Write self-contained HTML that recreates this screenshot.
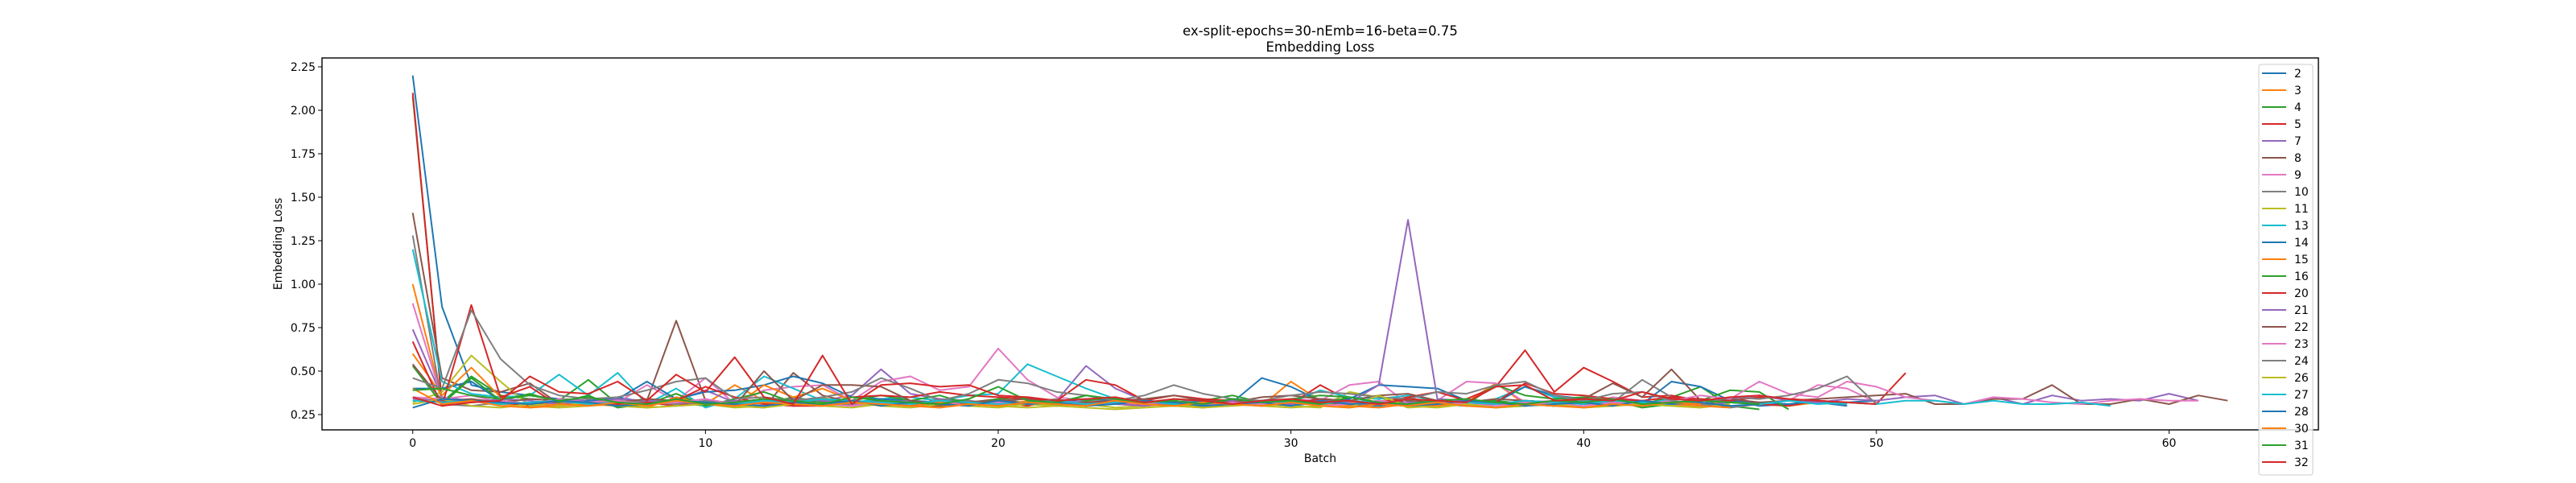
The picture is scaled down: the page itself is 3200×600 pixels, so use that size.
<!DOCTYPE html>
<html><head><meta charset="utf-8"><title>Embedding Loss</title>
<style>
html,body{margin:0;padding:0;background:#fff;}
svg{display:block;font-family:"DejaVu Sans","Liberation Sans",sans-serif;}
</style></head>
<body>
<svg id="chart" width="3200" height="600" viewBox="0 0 3200 600">
<text x="1640" y="44" text-anchor="middle" font-size="16.5">ex-split-epochs=30-nEmb=16-beta=0.75</text>
<text x="1640" y="64" text-anchor="middle" font-size="16.5">Embedding Loss</text>
<g id="plot"></g>
<rect x="400" y="72" width="2480" height="462" fill="none" stroke="#000" stroke-width="1.4"/>
<g id="xticks"></g>
<g id="yticks"></g>
<text x="1640" y="574" text-anchor="middle" font-size="14">Batch</text>
<text transform="translate(350,303) rotate(-90)" text-anchor="middle" font-size="14">Embedding Loss</text>
<g id="legend"></g>
</svg>
<script>
const seriesNames = ["2","3","4","5","7","8","9","10","11","13","14","15","16","20","21","22","23","24","26","27","28","30","31","32"];
const colors = ["#1f77b4","#ff7f0e","#2ca02c","#d62728","#9467bd","#8c564b","#e377c2","#7f7f7f","#bcbd22","#17becf"];
const xTicks = [0,10,20,30,40,50,60];
const yTicks = [0.25,0.50,0.75,1.00,1.25,1.50,1.75,2.00,2.25];
const s2  = [2.20,0.87,0.42,0.38,0.36,0.34,0.33,0.35,0.32,0.33,0.31,0.32,0.34,0.31,0.33,0.30,0.32,0.31,0.33,0.30,0.32,0.31,0.30,0.33,0.32,0.31,0.30,0.32,0.31,0.33,0.30,0.32,0.31,0.30,0.32,0.31,0.30,0.33,0.31,0.30,0.32,0.31,0.30,0.32,0.31,0.33,0.30,0.31,0.32,0.30];
const s3  = [1.00,0.34,0.33,0.31,0.30,0.32,0.31,0.33,0.30,0.34,0.31,0.42,0.33,0.31,0.35,0.30,0.32,0.31,0.30,0.33,0.31,0.32,0.30,0.33,0.31,0.30,0.32,0.29,0.31,0.30,0.44,0.33,0.32,0.31,0.30,0.33,0.32,0.43,0.31,0.30,0.32,0.34,0.31,0.32,0.30,0.33,0.31,0.30,0.32,0.31];
const s4  = [2.08,0.32,0.47,0.36,0.34,0.33,0.45,0.31,0.33,0.32,0.30,0.33,0.31,0.35,0.32,0.31,0.34,0.33,0.32,0.30,0.33,0.32,0.31,0.36,0.33,0.31,0.32,0.30,0.33,0.31,0.32,0.34,0.33,0.31,0.35,0.30,0.32,0.33,0.31,0.30,0.34,0.33,0.31,0.35,0.41,0.30,0.28];
const s5  = [2.10,0.31,0.33,0.32,0.30,0.34,0.33,0.31,0.32,0.30,0.33,0.31,0.32,0.30,0.31,0.33,0.32,0.30,0.34,0.31,0.32,0.30,0.33,0.31,0.32,0.30,0.33,0.31,0.34,0.32,0.31,0.42,0.33,0.31,0.30,0.33,0.34,0.41,0.62,0.38,0.52,0.44,0.35,0.36,0.33,0.32,0.31,0.30,0.33,0.31];
const s7  = [0.74,0.35,0.33,0.32,0.31,0.34,0.33,0.32,0.30,0.33,0.39,0.32,0.31,0.34,0.33,0.36,0.51,0.37,0.34,0.33,0.31,0.35,0.33,0.53,0.40,0.33,0.32,0.34,0.31,0.33,0.32,0.34,0.31,0.33,0.32,0.31,0.33,0.32,0.30,0.33,0.31,0.32,0.33,0.31,0.30,0.32];
const s8  = [1.41,0.46,0.39,0.38,0.43,0.31,0.32,0.30,0.33,0.79,0.33,0.30,0.29,0.49,0.36,0.32,0.33,0.31,0.30,0.32,0.34,0.31,0.33,0.30,0.32,0.31,0.33,0.30,0.32,0.31,0.33,0.32,0.30,0.31,0.33,0.32,0.30,0.31,0.33,0.32,0.31,0.33,0.30,0.32,0.31,0.30];
const s9  = [0.89,0.34,0.36,0.32,0.34,0.33,0.31,0.32,0.42,0.33,0.46,0.31,0.39,0.41,0.42,0.33,0.44,0.47,0.39,0.41,0.63,0.45,0.35,0.33,0.34,0.32,0.31,0.33,0.30,0.32,0.34,0.33,0.42,0.44,0.31,0.33,0.44,0.43,0.32,0.33,0.31,0.35,0.33,0.31,0.34,0.32,0.31,0.33,0.42,0.40,0.32];
const s10 = [1.28,0.31,0.30,0.32,0.31,0.33,0.30,0.34,0.32,0.31,0.33,0.30,0.32,0.34,0.31,0.33,0.30,0.32,0.31,0.33,0.30,0.32,0.34,0.31,0.33,0.32,0.30,0.31,0.33,0.32,0.31,0.34,0.30,0.32,0.31,0.33,0.30,0.32,0.31,0.30,0.33,0.32,0.45,0.35,0.31,0.29,0.31];
const s11 = [0.32,0.38,0.59,0.44,0.30,0.29,0.30,0.31,0.29,0.30,0.31,0.29,0.30,0.31,0.30,0.29,0.31,0.30,0.29,0.31,0.30,0.29,0.30,0.31,0.29,0.30,0.31,0.29,0.30,0.31,0.30,0.29,0.38,0.35,0.29,0.30,0.31,0.29,0.30,0.31,0.29,0.30,0.31,0.30,0.29,0.31];
const s13 = [1.20,0.44,0.37,0.35,0.36,0.48,0.36,0.49,0.31,0.40,0.29,0.34,0.47,0.40,0.33,0.32,0.34,0.35,0.33,0.36,0.37,0.54,0.47,0.40,0.34,0.33,0.32,0.31,0.34,0.33,0.32,0.39,0.35,0.34,0.36,0.33,0.32,0.34,0.41,0.35,0.33,0.32,0.31,0.34,0.33,0.32,0.31,0.33,0.32,0.31];
const s14 = [0.40,0.40,0.44,0.33,0.31,0.30,0.33,0.34,0.44,0.34,0.38,0.39,0.42,0.47,0.43,0.35,0.34,0.33,0.32,0.31,0.33,0.31,0.32,0.34,0.33,0.32,0.31,0.33,0.32,0.46,0.41,0.33,0.34,0.42,0.41,0.40,0.33,0.32,0.41,0.36,0.34,0.32,0.31,0.44,0.41,0.33,0.32,0.31,0.33,0.32,0.33];
const s15 = [0.60,0.36,0.52,0.35,0.29,0.30,0.31,0.30,0.29,0.35,0.31,0.30,0.42,0.35,0.40,0.33,0.31,0.30,0.32,0.31,0.30,0.33,0.31,0.30,0.32,0.31,0.30,0.29,0.31,0.30,0.32,0.31,0.30,0.29,0.31,0.30,0.32,0.31,0.30,0.33,0.31,0.30,0.32,0.31,0.30,0.29];
const s16 = [0.53,0.31,0.46,0.33,0.37,0.32,0.36,0.29,0.31,0.37,0.30,0.34,0.38,0.32,0.34,0.33,0.36,0.33,0.36,0.31,0.34,0.35,0.30,0.33,0.35,0.31,0.34,0.33,0.36,0.32,0.34,0.36,0.35,0.32,0.34,0.33,0.31,0.42,0.36,0.34,0.35,0.33,0.29,0.31,0.33,0.39,0.38,0.28];
const s20 = [0.67,0.30,0.88,0.35,0.41,0.30,0.32,0.31,0.32,0.33,0.41,0.35,0.31,0.30,0.30,0.35,0.36,0.35,0.38,0.36,0.35,0.34,0.33,0.45,0.42,0.33,0.36,0.34,0.33,0.32,0.31,0.34,0.33,0.32,0.35,0.38,0.33,0.32,0.43,0.37,0.36,0.34,0.33,0.35,0.34,0.33,0.35,0.34,0.33,0.32,0.31,0.49];
const s21 = [0.34,0.33,0.32,0.34,0.33,0.31,0.32,0.34,0.33,0.32,0.31,0.33,0.32,0.34,0.33,0.31,0.32,0.33,0.31,0.30,0.32,0.31,0.33,0.32,0.31,0.30,0.32,0.31,0.33,0.32,0.31,0.33,0.32,0.42,1.37,0.34,0.33,0.31,0.33,0.32,0.31,0.33,0.32,0.31,0.33,0.34,0.36,0.33,0.32,0.34,0.33,0.35,0.36,0.31,0.35,0.31,0.36,0.33,0.34,0.33,0.37,0.33];
const s22 = [0.54,0.33,0.34,0.32,0.34,0.33,0.31,0.32,0.34,0.33,0.31,0.30,0.50,0.33,0.42,0.42,0.41,0.33,0.31,0.32,0.33,0.34,0.31,0.32,0.33,0.34,0.36,0.33,0.32,0.35,0.36,0.34,0.33,0.36,0.37,0.33,0.32,0.34,0.33,0.32,0.34,0.43,0.35,0.51,0.33,0.34,0.32,0.33,0.34,0.35,0.36,0.37,0.31,0.31,0.34,0.34,0.42,0.31,0.31,0.34,0.31,0.36,0.33];
const s23 = [0.35,0.34,0.32,0.33,0.31,0.34,0.32,0.33,0.31,0.32,0.34,0.31,0.33,0.32,0.31,0.30,0.32,0.31,0.33,0.30,0.32,0.31,0.33,0.30,0.32,0.31,0.33,0.30,0.32,0.31,0.33,0.30,0.31,0.33,0.31,0.32,0.31,0.30,0.32,0.31,0.30,0.32,0.31,0.33,0.36,0.34,0.44,0.37,0.35,0.44,0.41,0.35,0.33,0.31,0.35,0.34,0.32,0.31,0.33,0.34,0.33,0.33];
const s24 = [0.46,0.40,0.85,0.57,0.42,0.36,0.34,0.35,0.39,0.44,0.46,0.34,0.35,0.33,0.35,0.38,0.46,0.40,0.33,0.37,0.45,0.43,0.38,0.36,0.33,0.36,0.42,0.37,0.34,0.33,0.36,0.38,0.37,0.35,0.34,0.38,0.37,0.42,0.44,0.36,0.33,0.37,0.38,0.33,0.31,0.35,0.34,0.36,0.40,0.47,0.31];
const s26 = [0.31,0.34,0.30,0.29,0.31,0.30,0.32,0.30,0.29,0.30,0.31,0.30,0.29,0.31,0.30,0.32,0.30,0.29,0.31,0.30,0.29,0.31,0.30,0.29,0.28,0.29,0.30,0.29,0.31,0.30,0.29,0.30,0.29,0.36,0.30,0.29,0.31,0.29,0.30,0.31,0.29,0.30,0.31,0.30,0.29];
const s27 = [0.33,0.32,0.33,0.31,0.32,0.33,0.31,0.32,0.31,0.33,0.32,0.31,0.33,0.32,0.34,0.33,0.32,0.31,0.33,0.32,0.31,0.32,0.33,0.31,0.32,0.33,0.31,0.32,0.31,0.33,0.32,0.31,0.33,0.32,0.31,0.33,0.32,0.31,0.33,0.32,0.31,0.33,0.32,0.31,0.33,0.32,0.31,0.33,0.31,0.32,0.31,0.33,0.33,0.31,0.33,0.31,0.31,0.32,0.30];
const s28 = [0.29,0.34,0.33,0.32,0.31,0.33,0.32,0.30,0.31,0.33,0.32,0.31,0.30,0.32,0.31,0.33,0.30,0.32,0.31,0.30,0.33,0.31,0.32,0.30,0.31,0.33,0.32,0.30,0.31,0.32,0.30,0.33,0.31,0.32,0.30,0.31,0.33,0.32,0.30,0.31,0.32,0.30,0.33,0.31,0.32,0.30,0.31];
const s30 = [0.40,0.31,0.33,0.30,0.29,0.31,0.30,0.32,0.30,0.33,0.31,0.30,0.32,0.31,0.30,0.32,0.31,0.30,0.29,0.31,0.30,0.32,0.31,0.30,0.33,0.31,0.30,0.32,0.31,0.30,0.32,0.30,0.29,0.31,0.30,0.32,0.30,0.29,0.31,0.30,0.29,0.31,0.30,0.32,0.31];
const s31 = [0.39,0.40,0.36,0.34,0.36,0.33,0.35,0.32,0.31,0.34,0.31,0.32,0.34,0.33,0.31,0.35,0.33,0.32,0.31,0.34,0.41,0.33,0.32,0.36,0.34,0.32,0.33,0.31,0.34,0.32,0.33,0.31,0.35,0.32,0.31,0.33,0.34,0.32,0.31,0.33,0.32,0.34,0.31,0.32,0.33,0.32,0.31];
const s32 = [0.35,0.30,0.32,0.33,0.47,0.38,0.37,0.44,0.33,0.48,0.38,0.58,0.35,0.31,0.59,0.31,0.42,0.43,0.41,0.42,0.36,0.35,0.33,0.34,0.35,0.32,0.34,0.33,0.31,0.33,0.34,0.32,0.33,0.31,0.34,0.33,0.32,0.41,0.42,0.33,0.34,0.33,0.38,0.34,0.33,0.35,0.36,0.34,0.33,0.32,0.31];
const allSeries = [s2,s3,s4,s5,s7,s8,s9,s10,s11,s13,s14,s15,s16,s20,s21,s22,s23,s24,s26,s27,s28,s30,s31,s32];

const X0=400,X1=2880,Y0=534,Y1=72,XMIN=-3.1,XMAX=65.1,YMIN=0.162,YMAX=2.301;
function xs(v){return X0+(v-XMIN)/(XMAX-XMIN)*(X1-X0);}
function ys(v){return Y0-(v-YMIN)/(YMAX-YMIN)*(Y0-Y1);}
const NS="http://www.w3.org/2000/svg";
const plot=document.getElementById('plot');
allSeries.forEach((arr,i)=>{
  const p=document.createElementNS(NS,'polyline');
  p.setAttribute('points',arr.map((v,j)=>xs(j).toFixed(1)+','+ys(v).toFixed(1)).join(' '));
  p.setAttribute('fill','none');
  p.setAttribute('stroke',colors[i%10]);
  p.setAttribute('stroke-width','2');
  p.setAttribute('stroke-linejoin','round');
  
  
  plot.appendChild(p);
});
const xg=document.getElementById('xticks');
xTicks.forEach(t=>{
  const l=document.createElementNS(NS,'line');
  l.setAttribute('x1',xs(t));l.setAttribute('x2',xs(t));l.setAttribute('y1',Y0);l.setAttribute('y2',Y0+5);
  l.setAttribute('stroke','#000');
  
  
  xg.appendChild(l);
  const tx=document.createElementNS(NS,'text');
  tx.setAttribute('x',xs(t));tx.setAttribute('y',Y0+21);tx.setAttribute('text-anchor','middle');tx.setAttribute('font-size','14');
  tx.textContent=String(t);
  
  
  xg.appendChild(tx);
});
const yg=document.getElementById('yticks');
yTicks.forEach(t=>{
  const l=document.createElementNS(NS,'line');
  l.setAttribute('x1',X0-5);l.setAttribute('x2',X0);l.setAttribute('y1',ys(t));l.setAttribute('y2',ys(t));
  l.setAttribute('stroke','#000');
  
  
  yg.appendChild(l);
  const tx=document.createElementNS(NS,'text');
  tx.setAttribute('x',X0-8);tx.setAttribute('y',ys(t)+5);tx.setAttribute('text-anchor','end');tx.setAttribute('font-size','14');
  tx.textContent=t.toFixed(2);
  
  
  yg.appendChild(tx);
});
const lg=document.getElementById('legend');
const box=document.createElementNS(NS,'rect');
box.setAttribute('x',2806);box.setAttribute('y',80);box.setAttribute('width',67);box.setAttribute('height',seriesNames.length*21+6);
box.setAttribute('rx',3);box.setAttribute('fill','#fff');box.setAttribute('fill-opacity','0.8');box.setAttribute('stroke','#ccc');


lg.appendChild(box);
seriesNames.forEach((n,i)=>{
  const y=91+i*21;
  const l=document.createElementNS(NS,'line');
  l.setAttribute('x1',2810);l.setAttribute('x2',2840);l.setAttribute('y1',y);l.setAttribute('y2',y);
  l.setAttribute('stroke',colors[i%10]);l.setAttribute('stroke-width','2');
  
  
  lg.appendChild(l);
  const tx=document.createElementNS(NS,'text');
  tx.setAttribute('x',2850);tx.setAttribute('y',y+5);tx.setAttribute('font-size','14');
  tx.textContent=n;
  
  
  lg.appendChild(tx);
});
</script>
</body></html>
